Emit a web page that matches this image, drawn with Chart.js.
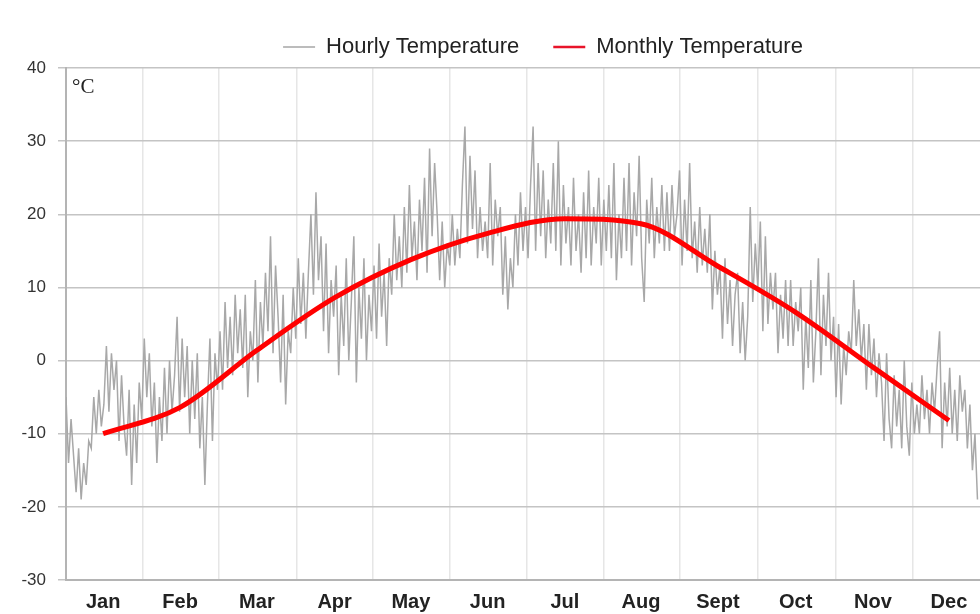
<!DOCTYPE html>
<html>
<head>
<meta charset="utf-8">
<script src="https://cdn.jsdelivr.net/npm/chart.js@4.4.1/dist/chart.umd.min.js"></script>
<style>
  html, body { margin: 0; padding: 0; background: #fff; }
  #wrap { width: 980px; height: 614px; }
</style>
</head>
<body>
<div id="wrap"><canvas id="tempChart" width="980" height="614"></canvas></div>
<script>
// month labels sit in the middle of each month, grid lines at month starts (day of year)
const monthNames = ['Jan', 'Feb', 'Mar', 'Apr', 'May', 'Jun', 'Jul', 'Aug', 'Sept', 'Oct', 'Nov', 'Dec'];
const monthMidDays = [14.7, 45.2, 75.6, 106.4, 136.6, 167, 197.6, 227.7, 258.2, 289, 319.6, 349.7];
const monthStartDays = [30.5, 60.6, 91.5, 121.6, 152.1, 182.6, 213, 243.2, 274.1, 305, 335.2];

// monthly mean temperature, °C
const monthlyTemps = [-10, -6.4, 1.4, 8.6, 13.8, 17.4, 19.4, 18.7, 12.9, 6.6, -0.9, -8.2];

const hourlyTemps = [
  -5, -14, -8,
  -13, -18, -12, -19, -14, -17, -11,
  -12, -5, -10, -4, -9,
  -6, 2, -7, 1,
  -4, 0, -11, -2, -9,
  -13, -4, -17, -6, -14, -3,
  -8, 3, -5, 1,
  -9, -3, -14, -5, -11,
  -1, -10, 0, -7,
  -2, 6, -7, 3, -5,
  2, -10, 0, -8, 1,
  -12, -5, -17,
  -6, 3, -11, 1, -4,
  4, -4, 8, -1, 6,
  -2, 9, 1, 7, -1,
  9, -5, 4,
  0, 11, -3, 8, 2, 12,
  4, 17, 1, 13, 6,
  -3, 9, -6, 4, 1,
  10, 3, 14, 5, 12, 3,
  12, 20, 9, 23, 11, 17,
  4, 16, 1, 11, 6,
  13, -2, 9, 2, 14, 0,
  8, 17, -3, 10, 3,
  14, 0, 9, 4, 13,
  3, 16, 6, 12, 2,
  14, 9, 20, 11, 17, 10, 21,
  12, 24, 14, 19, 11, 22, 15,
  25, 12,
  29, 17, 27, 20,
  11, 19, 10, 16, 13,
  20, 13, 18, 14,
  24, 32, 16, 28, 18, 26,
  14, 21, 15, 19, 14,
  27, 13, 22, 17,
  21, 9, 17, 7, 14, 10, 20,
  13, 23, 15, 21, 14,
  24, 32, 15, 27, 17,
  26, 14, 22, 16, 27,
  15, 30, 13, 24, 16, 21,
  13, 25, 15, 20, 12, 23,
  14, 26, 13, 21, 16,
  25, 13, 22, 15, 24, 14,
  27, 11, 20, 14, 25,
  15, 27, 13, 23, 17,
  28, 14, 8, 22, 16,
  25, 14, 21, 16, 24, 15,
  23, 15, 24, 17, 20,
  26, 13, 22, 15, 27, 14, 19,
  12, 21, 13, 18, 12,
  20, 7, 15, 9, 13,
  3, 14, 5, 11, 2, 9,
  12, 1, 8, 0, 6,
  21, 8, 16, 10, 19,
  4, 17, 5, 12, 7,
  12, 1, 9, 3, 11, 2,
  11, 2, 8, 4,
  10, -4, 6, -1, 11, -3, 4,
  14, -2, 9, 2, 12, 0, 6,
  -5, 5, -6, 2, -2, 4,
  1, 11, 2, 7, 0, 5,
  -4, 5, -2, 3, -5, 1,
  -3, -11, 1, -8, -12, -2, -9,
  -4, -12, 0, -9, -13, -3, -10, -6,
  -10, -2, -8, -4, -10, -3, -7,
  -1, 4, -12, -3, -9,
  -1, -10, -4, -11, -2, -7,
  -4, -12, -6, -15, -10, -19
];

const yMin = -30, yMax = 40, yStep = 10;

const hourlyPoints = hourlyTemps.map((v, i) => ({ x: i, y: v }));
const monthlyPoints = monthlyTemps.map((v, i) => ({ x: monthMidDays[i], y: v }));

// °C unit label in the top-left corner of the plot
const unitLabel = {
  id: 'unitLabel',
  afterDraw(chart) {
    const ctx = chart.ctx;
    const a = chart.chartArea;
    ctx.save();
    ctx.font = '21px "Liberation Serif", serif';
    ctx.fillStyle = '#222';
    ctx.textBaseline = 'top';
    ctx.fillText('°C', a.left + 6, a.top + 9);
    ctx.restore();
  }
};

// the legend in the picture sits a bit right of the plot centre
const legendShift = {
  id: 'legendShift',
  afterLayout(chart) {
    chart.legend.left += 20;
    chart.legend.right += 20;
  }
};

const ctx = document.getElementById('tempChart').getContext('2d');
new Chart(ctx, {
  type: 'line',
  data: {
    datasets: [
      {
        label: 'Monthly Temperature',
        data: monthlyPoints,
        borderColor: '#ff0000',
        borderWidth: 5,
        pointRadius: 0,
        cubicInterpolationMode: 'monotone',
        fill: false,
        order: 1
      },
      {
        label: 'Hourly Temperature',
        data: hourlyPoints,
        borderColor: '#a8a8a8',
        borderWidth: 1.5,
        pointRadius: 0,
        tension: 0,
        fill: false,
        order: 2
      }
    ]
  },
  options: {
    responsive: false,
    animation: false,
    layout: { padding: { top: 2, left: 0, right: 0, bottom: 0 } },
    plugins: {
      tooltip: { enabled: false },
      legend: {
        position: 'top',
        fullSize: false,
        labels: {
          font: { family: '"Liberation Sans", Arial, sans-serif', size: 22 },
          color: '#222',
          usePointStyle: true,
          pointStyleWidth: 32,
          padding: 34,
          generateLabels: () => [
            { text: 'Hourly Temperature', strokeStyle: '#a6a6a6', fillStyle: '#a6a6a6', lineWidth: 1.5, pointStyle: 'line', datasetIndex: 1, fontColor: '#222' },
            { text: 'Monthly Temperature', strokeStyle: '#e8142a', fillStyle: '#e8142a', lineWidth: 2.5, pointStyle: 'line', datasetIndex: 0, fontColor: '#222' }
          ]
        }
      }
    },
    scales: {
      x: {
        type: 'linear',
        min: 0,
        max: 362,
        afterFit: scale => { scale.height = 34; },
        afterBuildTicks: scale => {
          scale.ticks = monthStartDays.concat(monthMidDays)
            .sort((a, b) => a - b)
            .map(v => ({ value: v }));
        },
        ticks: {
          autoSkip: false,
          maxRotation: 0,
          padding: 10,
          color: '#222',
          font: { family: '"Liberation Sans", Arial, sans-serif', size: 20, weight: 'bold' },
          callback: v => {
            const i = monthMidDays.indexOf(v);
            return i >= 0 ? monthNames[i] : '';
          }
        },
        grid: {
          drawTicks: false,
          lineWidth: 1.5,
          color: c => (c.tick && monthMidDays.indexOf(c.tick.value) >= 0) ? 'rgba(0,0,0,0)' : '#e6e6e6'
        },
        border: { display: true, color: '#b4b4b4', width: 2 }
      },
      y: {
        min: yMin,
        max: yMax,
        afterFit: scale => { scale.width = 66; },
        ticks: {
          stepSize: yStep,
          padding: 12,
          color: '#333',
          font: { family: '"Liberation Sans", Arial, sans-serif', size: 17 }
        },
        grid: {
          color: '#c4c4c4',
          lineWidth: 1.5,
          tickLength: 8
        },
        border: { display: true, color: '#b4b4b4', width: 2 }
      }
    }
  },
  plugins: [unitLabel, legendShift]
});
</script>
</body>
</html>
